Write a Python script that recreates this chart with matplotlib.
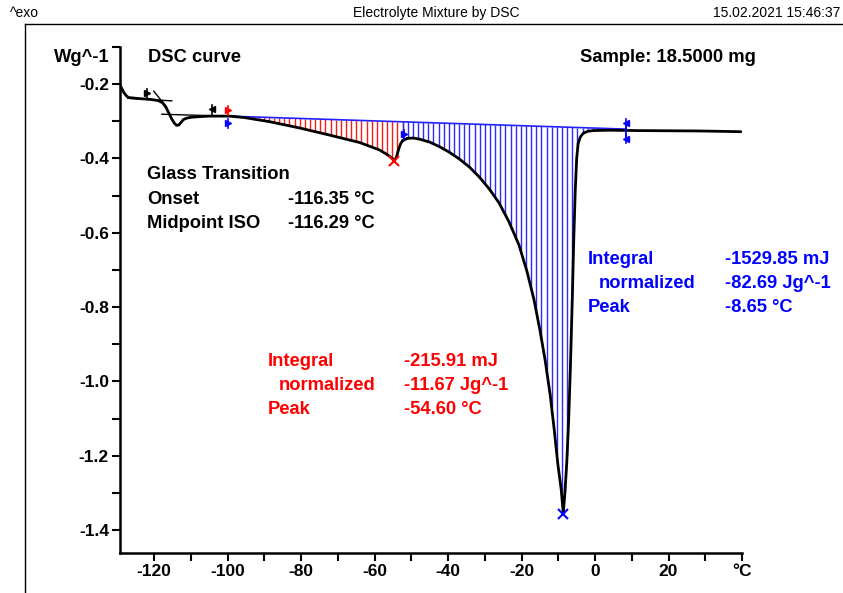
import numpy as np
import matplotlib
matplotlib.use("Agg")
import matplotlib.pyplot as plt
from matplotlib.ticker import MultipleLocator, FixedLocator

plt.rcParams['font.family'] = ['Liberation Sans', 'DejaVu Sans']

# ---- DSC curve (temperature °C, heat flow W/g) ----
temp = [-129.3, -128.8, -128.3, -127.6, -127.0, -125.0, -123.9, -121.0, -119.0, -117.7,
        -116.8, -116.0, -115.2, -114.5, -113.9, -113.3, -112.6, -112.0, -111.0, -109.8,
        -107.0, -104.9, -99.5, -95.4, -88.6, -80.4, -72.3, -64.1, -58.7, -56.5,
        -55.2, -54.6, -54.1, -53.6, -53.0, -52.4, -51.1, -49.5, -47.8, -45.0,
        -42.4, -39.7, -37.0, -34.2, -31.5, -28.8, -26.1, -23.4, -20.7, -18.5,
        -16.6, -15.0, -13.6, -12.2, -11.1, -10.1, -9.2, -8.65, -8.2, -7.7,
        -7.2, -6.7, -6.2, -5.8, -5.4, -5.0, -4.6, -4.0, -3.2, -2.0,
        -0.5, 3.8, 12.0, 28.3, 39.7]
heat = [-0.203, -0.212, -0.222, -0.231, -0.236, -0.238, -0.239, -0.241, -0.244, -0.250,
        -0.262, -0.278, -0.294, -0.305, -0.311, -0.310, -0.302, -0.295, -0.291, -0.289,
        -0.287, -0.286, -0.286, -0.290, -0.301, -0.318, -0.337, -0.357, -0.377, -0.390,
        -0.400, -0.405, -0.398, -0.380, -0.362, -0.352, -0.346, -0.345, -0.348, -0.356,
        -0.368, -0.383, -0.401, -0.423, -0.450, -0.482, -0.520, -0.571, -0.633, -0.705,
        -0.781, -0.862, -0.942, -1.037, -1.131, -1.225, -1.292, -1.355, -1.300, -1.220,
        -1.110, -0.960, -0.780, -0.620, -0.490, -0.400, -0.360, -0.342, -0.332, -0.327,
        -0.325, -0.324, -0.325, -0.326, -0.328]

# integration baseline and peak limits
base_temp = [-100.0, 8.4]
base_heat = [-0.286, -0.321]
red_limits = [-100.0, -52.4]
blue_limits = [-52.4, 8.4]
hatch_step = 1.4

# glass transition construction lines
gt_lines = [([-127.2, -115.2], [-0.238, -0.245]),
            ([-120.1, -116.6], [-0.219, -0.262]),
            ([-117.9, -100.8], [-0.281, -0.286])]

peak_red = (-54.6, -0.408)
peak_blue = (-8.65, -1.358)

xticks = [-120, -100, -80, -60, -40, -20, 0, 20, 40]
xticklabels = ['-120', '-100', '-80', '-60', '-40', '-20', '0', '20', '°C']
yticks = [-1.4, -1.2, -1.0, -0.8, -0.6, -0.4, -0.2]
yticklabels = ['-1.4', '-1.2', '-1.0', '-0.8', '-0.6', '-0.4', '-0.2']

W, H = 843, 593
fig = plt.figure(figsize=(W / 100, H / 100), dpi=100)
ax = fig.add_axes([120 / W, 1 - 553 / H, (742 - 120) / W, (553 - 47) / H])

def P(x, y):
    return (x / W, 1 - y / H)

# hatching
for (lo, hi), col in ((red_limits, '#ff1a1a'), (blue_limits, '#2a2aff')):
    xs = np.arange(lo, hi + 1e-9, hatch_step)
    ytop = np.interp(xs, base_temp, base_heat)
    ybot = np.interp(xs, temp, heat)
    ax.vlines(xs, ybot, ytop, colors=col, linewidth=1.0, zorder=2)

ax.plot(base_temp, base_heat, color='#2020ff', lw=1.2, zorder=3)
ax.plot(temp, heat, color='black', lw=2.0, zorder=4,
        solid_capstyle='round', solid_joinstyle='round')
for xs_, ys_ in gt_lines:
    ax.plot(xs_, ys_, color='black', lw=1.0, zorder=4)

# peak crosses
ax.plot(*peak_red, marker='x', color='red', ms=7, mew=1.5, zorder=5)
ax.plot(*peak_blue, marker='x', color='blue', ms=7, mew=1.5, zorder=5)

# flags (limit markers)
flags = [(-122.0, -0.224, 'black', '>'), (-104.3, -0.267, 'black', '<'),
         (-100.0, -0.270, 'red', '>'), (-100.0, -0.305, 'blue', '>'),
         (-51.9, -0.335, 'blue', '>'), (8.4, -0.305, 'blue', '<'),
         (8.4, -0.347, 'blue', '<')]
for fx, fy, fc, fm in flags:
    ax.plot([fx, fx], [fy - 0.012, fy + 0.012], color=fc, lw=1.2, zorder=5)
    ax.plot(fx, fy, marker=fm, color=fc, ms=4.5, zorder=5)
ax.plot([8.4, 8.4], [-0.305, -0.347], color='blue', lw=1.2, zorder=5)

ax.set_xlim(-129.3, 40)
ax.set_ylim(-1.462, -0.1)
ax.spines['top'].set_visible(False)
ax.spines['right'].set_visible(False)
for s in ('left', 'bottom'):
    ax.spines[s].set_linewidth(1.8)
ax.set_xticks(xticks)
ax.set_xticklabels(xticklabels)
ax.xaxis.set_minor_locator(MultipleLocator(10))
ax.set_yticks(yticks)
ax.set_yticklabels(yticklabels)
ax.yaxis.set_minor_locator(FixedLocator([-1.3, -1.1, -0.9, -0.7, -0.5, -0.3, -0.1]))
ax.tick_params(which='both', direction='out', length=6, width=1.5)
ax.tick_params(axis='both', labelsize=12.5, pad=2)
for lab in ax.get_xticklabels() + ax.get_yticklabels():
    lab.set_fontweight('bold')

# header
fig.add_artist(plt.Line2D([25 / W, 1], [1 - 24 / H, 1 - 24 / H], color='black', lw=1.0))
fig.add_artist(plt.Line2D([25 / W, 25 / W], [0, 1 - 24 / H], color='black', lw=1.0))
fig.text(*P(10, 13), '^exo', fontsize=10, va='center', ha='left')
fig.text(*P(436, 13), 'Electrolyte Mixture by DSC', fontsize=10, va='center', ha='center')
fig.text(*P(840, 13), '15.02.2021 15:46:37', fontsize=10, va='center', ha='right')

tb = dict(fontsize=13.2, fontweight='bold', va='center', ha='left')
fig.text(*P(110, 58), 'Wg^-1', **{**tb, 'ha': 'right'})
fig.text(*P(148, 58), 'DSC curve', **tb)
fig.text(*P(580, 58), 'Sample: 18.5000 mg', **tb)

fig.text(*P(147, 175), 'Glass Transition', **tb)
fig.text(*P(147, 199), 'Onset', **tb)
fig.text(*P(288, 199), '-116.35 °C', **tb)
fig.text(*P(147, 223), 'Midpoint ISO', **tb)
fig.text(*P(288, 223), '-116.29 °C', **tb)

tbb = {**tb, 'color': '#0000ff'}
fig.text(*P(588, 259), 'Integral', **tbb)
fig.text(*P(725, 259), '-1529.85 mJ', **tbb)
fig.text(*P(599, 283), 'normalized', **tbb)
fig.text(*P(725, 283), '-82.69 Jg^-1', **tbb)
fig.text(*P(588, 308), 'Peak', **tbb)
fig.text(*P(725, 308), '-8.65 °C', **tbb)

tbr = {**tb, 'color': '#ff0000'}
fig.text(*P(268, 361), 'Integral', **tbr)
fig.text(*P(404, 361), '-215.91 mJ', **tbr)
fig.text(*P(279, 385), 'normalized', **tbr)
fig.text(*P(404, 385), '-11.67 Jg^-1', **tbr)
fig.text(*P(268, 410), 'Peak', **tbr)
fig.text(*P(404, 410), '-54.60 °C', **tbr)

fig.savefig('out.png', dpi=100)
